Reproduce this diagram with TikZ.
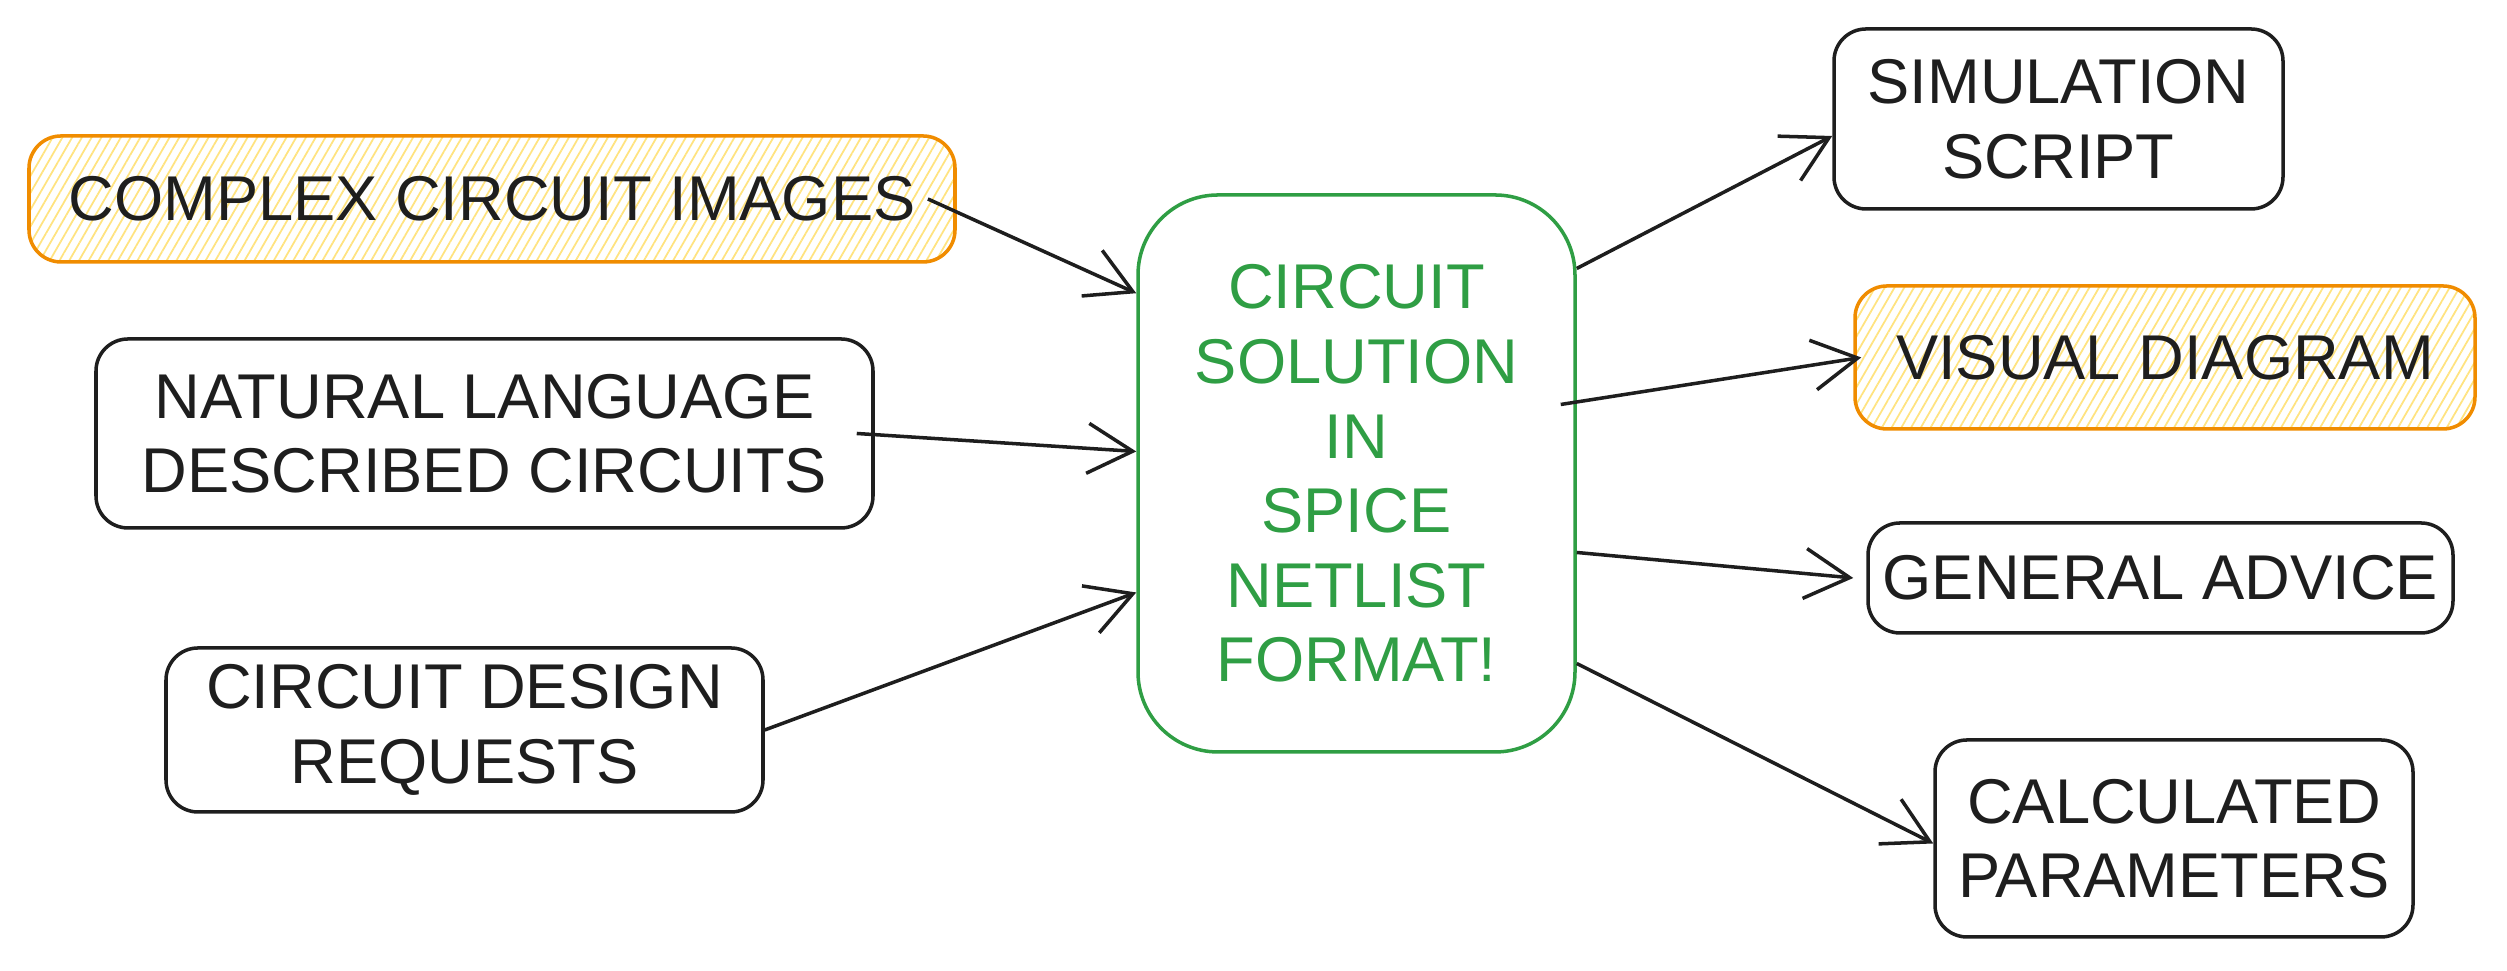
\documentclass[tikz,border=0pt]{standalone}
\usepackage{fontspec}
\setmainfont{Liberation Sans}
\usetikzlibrary{arrows.meta,patterns.meta}
\definecolor{ink}{HTML}{1E1E1E}
\definecolor{leaf}{HTML}{2F9E44}
\definecolor{amber}{HTML}{F08C00}
\definecolor{hatch}{HTML}{FFE380}
\begin{document}
\begin{tikzpicture}[
  every node/.style={rectangle, rounded corners=0.32cm, draw=ink, line width=1pt, text=ink, align=center, font=\fontsize{18}{21.2}\selectfont, inner sep=0pt},
  hatched/.style={draw=amber, pattern={Lines[angle=60,distance=2.4pt,line width=0.5pt]}, pattern color=hatch},
  core/.style={draw=leaf, text=leaf, rounded corners=0.8cm},
  link/.style={draw=ink, line width=1pt, -{Straight Barb[length=0.45cm,width=0.5cm,line width=1pt]}},
]
\useasboundingbox (0,0) rectangle (25.07,9.71);
% sources
\node[hatched, minimum width=9.26cm, minimum height=1.26cm] (img) at (4.92,7.72) {COMPLEX CIRCUIT IMAGES};
\node[minimum width=7.77cm, minimum height=1.89cm] (nat) at (4.845,5.375) {NATURAL LANGUAGE\\DESCRIBED CIRCUITS};
\node[minimum width=5.97cm, minimum height=1.64cm] (req) at (4.645,2.41) {CIRCUIT DESIGN\\REQUESTS};
% centre
\node[core, minimum width=4.37cm, minimum height=5.57cm] (sol) at (13.565,4.975) {CIRCUIT\\SOLUTION\\IN\\SPICE\\NETLIST\\FORMAT!};
% outputs
\node[minimum width=4.49cm, minimum height=1.80cm] (sim) at (20.585,8.52) {SIMULATION\\SCRIPT};
\node[hatched, minimum width=6.2cm, minimum height=1.43cm] (vis) at (21.65,6.135) {VISUAL DIAGRAM};
\node[minimum width=5.85cm, minimum height=1.10cm] (adv) at (21.605,3.93) {GENERAL ADVICE};
\node[minimum width=4.78cm, minimum height=1.97cm] (calc) at (21.74,1.325) {CALCULATED\\PARAMETERS};
% connectors
\draw[link] ([xshift=-0.28cm]img.east) -- ([yshift=-1cm]sol.north west);
\draw[link] ([xshift=-0.18cm]nat.east) -- ([yshift=0.22cm]sol.west);
\draw[link] (req.east) -- ([yshift=-1.19cm]sol.west);
\draw[link] ([yshift=2.05cm]sol.east) -- ([yshift=-0.17cm]sim.west);
\draw[link] ([xshift=-0.16cm,yshift=0.69cm]sol.east) -- ([xshift=0.08cm]vis.west);
\draw[link] ([yshift=-0.79cm]sol.east) -- ([xshift=-0.13cm]adv.west);
\draw[link] ([yshift=-1.9cm]sol.east) -- ([yshift=-0.05cm]calc.west);
\end{tikzpicture}
\end{document}
